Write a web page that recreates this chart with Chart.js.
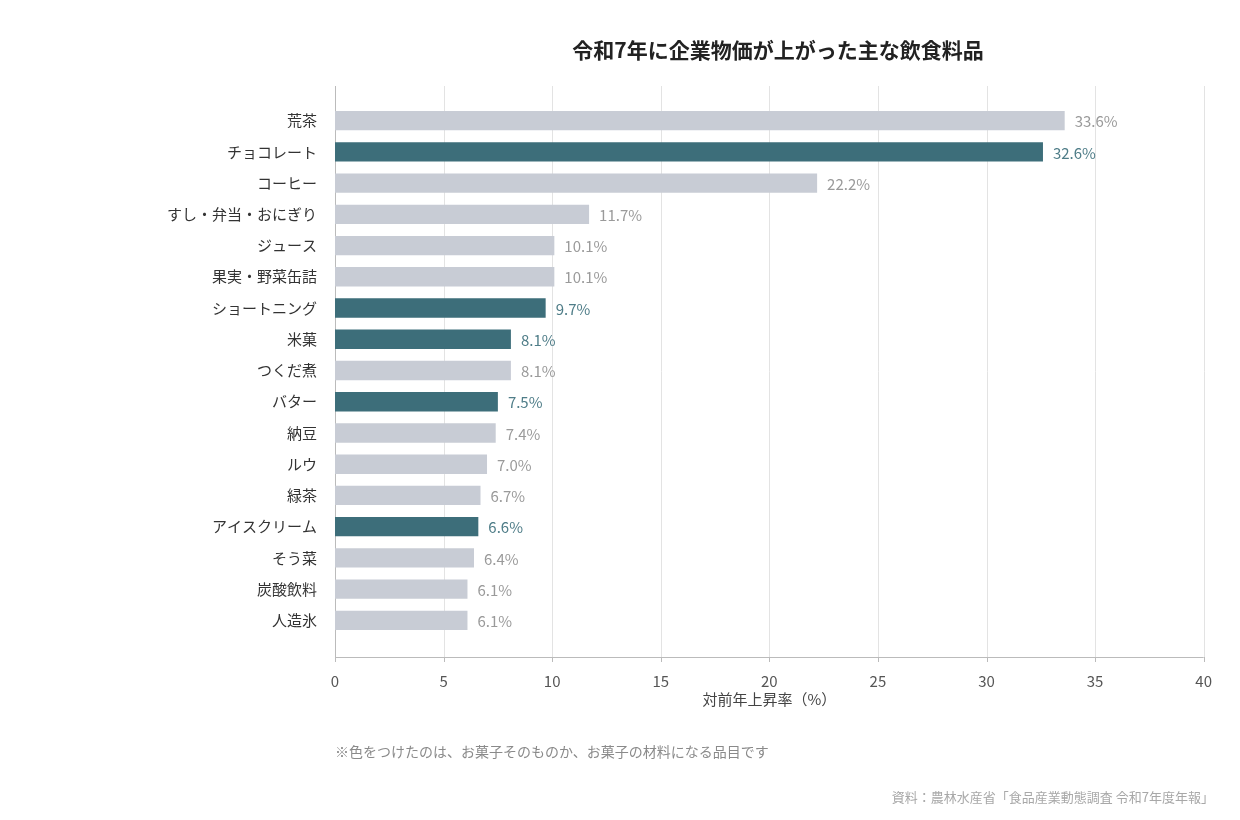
<!DOCTYPE html>
<html><head><meta charset="utf-8">
<script src="https://cdn.jsdelivr.net/npm/chart.js@4"></script>
<style>html,body{margin:0;padding:0;background:#fff}</style>
</head><body>
<div style="width:1240px;height:820px"><canvas id="c"></canvas></div>
<script>
const categories = ["荒茶","チョコレート","コーヒー","すし・弁当・おにぎり","ジュース","果実・野菜缶詰","ショートニング","米菓","つくだ煮","バター","納豆","ルウ","緑茶","アイスクリーム","そう菜","炭酸飲料","人造氷"];
const values = [33.6,32.6,22.2,11.7,10.1,10.1,9.7,8.1,8.1,7.5,7.4,7.0,6.7,6.6,6.4,6.1,6.1];
const highlighted = [false,true,false,false,false,false,true,true,false,true,false,false,false,true,false,false,false];
const xTicks = [0,5,10,15,20,25,30,35,40];
const GRAY="#c8ccd5", TEAL="#3d6e7a";
const FONT='"Noto Sans CJK JP", "Noto Sans", sans-serif';
Chart.defaults.font.family = FONT;

const deco = {
  id:'deco',
  beforeDatasetsDraw(chart){
    const ctx=chart.ctx, xs=chart.scales.x;
    ctx.save();
    ctx.strokeStyle="#e3e3e3"; ctx.lineWidth=1;
    xTicks.forEach(t=>{ if(t===0) return; const x=Math.round(xs.getPixelForValue(t))+0.5;
      ctx.beginPath(); ctx.moveTo(x,86); ctx.lineTo(x,657); ctx.stroke(); });
    ctx.strokeStyle="#bbbbbb";
    const x0=Math.round(xs.getPixelForValue(0))+0.5;
    ctx.beginPath(); ctx.moveTo(x0,86); ctx.lineTo(x0,657); ctx.stroke();
    ctx.beginPath(); ctx.moveTo(x0,657.5); ctx.lineTo(xs.getPixelForValue(40),657.5); ctx.stroke();
    xTicks.forEach(t=>{ const x=Math.round(xs.getPixelForValue(t))+0.5;
      ctx.beginPath(); ctx.moveTo(x,657); ctx.lineTo(x,662); ctx.stroke(); });
    ctx.restore();
  },
  afterDatasetsDraw(chart){
    const ctx=chart.ctx, meta=chart.getDatasetMeta(0);
    ctx.save();
    ctx.font='15px '+FONT; ctx.textBaseline='middle'; ctx.textAlign='left';
    meta.data.forEach((bar,i)=>{
      ctx.fillStyle=highlighted[i]?"#4f7d88":"#9a9a9a";
      ctx.fillText(values[i].toFixed(1)+"%", bar.x+10, bar.y+1);
    });
    ctx.fillStyle="#222"; ctx.font='bold 21px '+FONT; ctx.textAlign='center';
    ctx.fillText("令和7年に企業物価が上がった主な飲食料品", 778, 50);
    ctx.fillStyle="#8a8a8a"; ctx.font='14px '+FONT; ctx.textAlign='left';
    ctx.fillText("※色をつけたのは、お菓子そのものか、お菓子の材料になる品目です", 335, 752);
    ctx.fillStyle="#a8a8a8"; ctx.font='13px '+FONT; ctx.textAlign='right';
    ctx.fillText("資料：農林水産省「食品産業動態調査 令和7年度年報」", 1214, 797);
    ctx.restore();
  }
};

new Chart(document.getElementById('c'),{
  type:'bar',
  data:{labels:categories,datasets:[{data:values,
    backgroundColor:highlighted.map(h=>h?TEAL:GRAY),
    barPercentage:0.62,categoryPercentage:1.0}]},
  options:{
    indexAxis:'y',responsive:true,maintainAspectRatio:false,animation:false,
    layout:{padding:{top:105,right:19,bottom:110,left:0}},
    plugins:{legend:{display:false},tooltip:{enabled:false}},
    scales:{
      x:{min:0,max:40,afterBuildTicks(s){s.ticks=xTicks.map(v=>({value:v}));},
        grid:{display:false},border:{display:false},
        ticks:{color:"#555",font:{size:15},padding:28,maxRotation:0},
        title:{display:true,text:"対前年上昇率（%）",color:"#444",font:{size:15},padding:{top:4,bottom:2}},
        afterFit(s){s.height=74;}},
      y:{grid:{display:false},border:{display:false},
        ticks:{color:"#333",font:{size:15},padding:10},
        afterFit(s){s.width=335;}}
    }
  },
  plugins:[deco]
});
</script>
</body></html>
